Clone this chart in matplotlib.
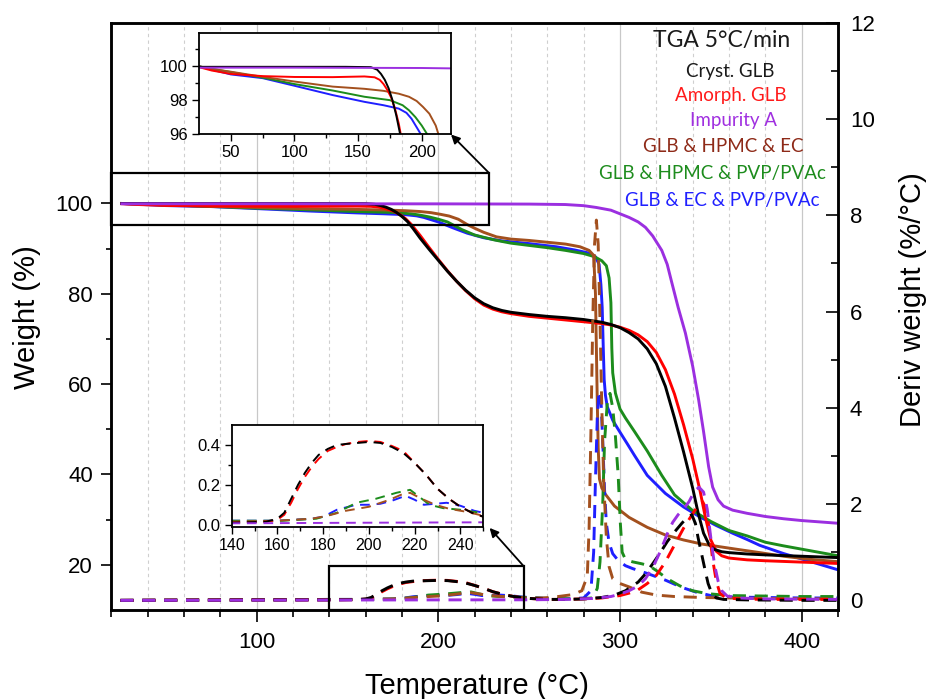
import matplotlib
matplotlib.use('Agg')
import matplotlib.pyplot as plt
from matplotlib.ticker import MultipleLocator, FixedLocator
from matplotlib.patches import Rectangle

plt.rcParams['font.family'] = ['Liberation Sans', 'DejaVu Sans']

# ---- weight curves (%) ----
cryst_wt_T = [25, 60, 100, 140, 160, 165, 168, 171, 174, 177, 180, 183, 186, 190, 195, 200, 205, 210, 215, 220,
              225, 230, 235, 240, 250, 260, 270, 280, 290, 295, 300, 305, 310, 315, 320, 325, 330, 335, 340, 343,
              346, 349, 352, 356, 360, 370, 380, 400, 420]
cryst_wt = [99.97, 99.97, 99.97, 99.97, 99.95, 99.8, 99.55, 99.2, 98.7, 98.0, 97.1, 96.0, 94.5, 92.3, 89.8, 87.4,
            85.0, 82.8, 80.8, 79.1, 77.8, 76.9, 76.3, 75.9, 75.4, 75.0, 74.7, 74.3, 73.7, 73.2, 72.5, 71.4, 70.0,
            67.8, 64.5, 59.5, 52.5, 45.0, 37.0, 31.5, 27.0, 24.5, 23.4, 22.9, 22.7, 22.4, 22.2, 21.9, 21.6]

amorph_wt_T = [25, 35, 50, 75, 100, 130, 155, 163, 167, 170, 173, 176, 179, 182, 185, 190, 195, 200, 205, 210,
               215, 220, 225, 230, 235, 240, 250, 260, 270, 280, 290, 295, 300, 305, 310, 315, 320, 325, 330, 335,
               340, 344, 347, 350, 353, 356, 360, 370, 380, 400, 420]
amorph_wt = [99.95, 99.75, 99.55, 99.42, 99.37, 99.36, 99.4, 99.35, 99.2, 98.95, 98.6, 98.15, 97.5, 96.6, 95.4,
             92.9, 90.2, 87.6, 85.1, 82.8, 80.7, 78.9, 77.5, 76.6, 76.0, 75.6, 75.0, 74.6, 74.2, 73.8, 73.4, 73.1,
             72.6, 71.9, 70.9, 69.4, 67.0, 63.2, 57.8, 51.0, 43.5, 36.5, 30.5, 25.5, 23.0, 22.0, 21.5, 21.1, 20.9,
             20.6, 20.3]

imp_wt_T = [25, 100, 200, 250, 270, 280, 287, 295, 300, 305, 310, 314, 318, 323, 326, 328.5, 332, 336, 340, 343.3,
            346, 348.8, 351, 354, 357, 362, 370, 380, 390, 400, 410, 420]
imp_wt = [99.92, 99.92, 99.9, 99.85, 99.75, 99.5, 99.1, 98.5, 97.7, 96.9, 95.9, 94.7, 92.8, 89.6, 86.5, 82.5, 77.0,
          71.3, 64.0, 56.5, 49.5, 41.7, 37.2, 34.4, 33.0, 32.1, 31.4, 30.7, 30.2, 29.8, 29.5, 29.2]

hpmc_ec_wt_T = [25, 35, 50, 75, 100, 130, 155, 170, 182, 190, 196, 201, 206, 211, 216, 220, 225, 232, 240, 250,
                260, 270, 278, 283, 285.5, 286.5, 287, 287.5, 288, 288.7, 290, 292, 297, 305, 315, 325, 335, 345,
                355, 365, 377, 390, 405, 420]
hpmc_ec_wt = [100.0, 99.85, 99.68, 99.38, 99.1, 98.8, 98.67, 98.55, 98.38, 98.2, 97.95, 97.6, 97.2, 96.5, 95.3,
              94.5, 93.6, 92.6, 92.1, 91.8, 91.4, 91.0, 90.4, 89.6, 88.5, 80.0, 68.0, 56.0, 46.0, 39.0, 37.0, 35.6,
              33.0, 30.5, 28.3, 26.6, 25.5, 24.6, 24.0, 23.4, 22.7, 21.9, 21.2, 20.7]

hpmc_pvp_wt_T = [25, 35, 50, 75, 100, 130, 155, 175, 185, 190, 195, 200, 205, 213, 220, 231, 240, 250, 260, 270,
                 280, 286, 290, 292.5, 294, 295, 295.5, 296, 297.5, 300, 303, 308, 315, 323, 330, 340, 350, 360,
                 370, 380, 390, 405, 420]
hpmc_pvp_wt = [100.0, 99.85, 99.66, 99.33, 98.95, 98.57, 98.2, 98.0, 97.7, 97.4, 97.0, 96.5, 95.9, 94.2, 93.0,
               91.9, 91.2, 90.7, 90.2, 89.6, 88.9, 88.2, 87.3, 86.2, 83.5, 78.0, 68.0, 62.5, 58.0, 54.5, 52.5, 49.5,
               45.2, 39.8, 35.5, 32.0, 29.6, 27.6, 26.4, 25.0, 24.2, 23.1, 22.0]

ec_pvp_wt_T = [25, 35, 50, 75, 100, 130, 155, 170, 182, 188, 192, 196, 200, 208, 216, 225, 235, 250, 265, 275,
               283, 286.5, 288.5, 289.5, 290.2, 290.8, 291.3, 292, 293, 296, 299, 304, 308, 315, 325, 335, 344, 353,
               362, 370, 377, 390, 400, 410, 420]
ec_pvp_wt = [100.0, 99.8, 99.52, 99.3, 98.85, 98.3, 97.9, 97.7, 97.5, 97.25, 96.9, 96.4, 95.9, 94.6, 93.4, 92.4,
             91.7, 91.1, 90.4, 89.7, 89.0, 88.2, 86.5, 82.0, 77.0, 68.0, 61.0, 57.5, 55.0, 52.0, 50.0, 46.8, 44.2,
             39.8, 35.8, 32.8, 30.6, 28.7, 27.0, 25.6, 24.3, 22.5, 21.3, 20.1, 18.9]

# ---- derivative curves (%/°C) ----
cryst_dw_T = [25, 60, 100, 140, 155, 160, 163, 166, 169, 172, 175, 178, 182, 186, 190, 195, 200, 205, 210, 215,
              220, 225, 230, 235, 240, 245, 250, 260, 270, 280, 290, 297, 303, 310, 314, 318, 322, 326, 330, 334,
              337, 339.5, 341.5, 343, 345, 347, 348.5, 350.5, 353, 357, 370, 400, 420]
cryst_dw = [0.0, 0.005, 0.01, 0.01, 0.015, 0.03, 0.06, 0.13, 0.2, 0.26, 0.31, 0.35, 0.38, 0.4, 0.405, 0.41, 0.415,
            0.41, 0.39, 0.36, 0.31, 0.25, 0.18, 0.13, 0.09, 0.06, 0.04, 0.02, 0.02, 0.03, 0.06, 0.11, 0.2, 0.38,
            0.55, 0.76, 0.98, 1.22, 1.42, 1.6, 1.72, 1.78, 1.6, 1.3, 0.95, 0.6, 0.35, 0.15, 0.05, 0.02, 0.01, 0.0,
            0.0]

amorph_dw_T = [25, 60, 100, 140, 155, 160, 163, 166, 169, 172, 175, 178, 182, 186, 190, 195, 200, 205, 210, 215,
               220, 225, 230, 235, 240, 245, 250, 260, 270, 280, 290, 300, 305, 310, 315, 320, 325, 330, 335, 340,
               343, 345.5, 347.5, 349, 351, 353, 355, 358, 365, 380, 420]
amorph_dw = [0.0, 0.005, 0.01, 0.01, 0.015, 0.025, 0.05, 0.11, 0.18, 0.24, 0.29, 0.33, 0.37, 0.39, 0.405, 0.415,
             0.42, 0.415, 0.395, 0.37, 0.31, 0.25, 0.18, 0.13, 0.09, 0.06, 0.04, 0.02, 0.02, 0.03, 0.05, 0.1, 0.15,
             0.22, 0.35, 0.52, 0.8, 1.15, 1.5, 1.8, 1.97, 2.05, 1.9, 1.5, 0.85, 0.4, 0.15, 0.06, 0.03, 0.02, 0.02]

imp_dw_T = [25, 100, 200, 250, 270, 285, 295, 300, 305, 310, 314, 318, 322, 326, 329, 332, 335, 338, 341, 343.5,
            346, 348, 350, 352, 354, 356, 359, 365, 380, 420]
imp_dw = [0.0, 0.005, 0.01, 0.012, 0.02, 0.04, 0.08, 0.13, 0.2, 0.3, 0.45, 0.68, 1.0, 1.38, 1.62, 1.78, 1.9, 2.05,
          2.27, 2.35, 2.25, 1.9, 1.3, 0.75, 0.4, 0.2, 0.09, 0.05, 0.03, 0.02]

hpmc_ec_dw_T = [25, 100, 140, 160, 175, 182, 190, 200, 209, 214, 218, 223, 229, 235, 242, 250, 258, 266, 274, 279,
                282, 283, 284, 285, 286, 287, 288, 289, 290, 291, 292.5, 294, 296, 300, 305, 312, 320, 330, 345,
                360, 380, 420]
hpmc_ec_dw = [0.0, 0.01, 0.015, 0.02, 0.03, 0.045, 0.07, 0.09, 0.125, 0.15, 0.16, 0.13, 0.1, 0.08, 0.066, 0.045,
              0.05, 0.08, 0.12, 0.2, 0.5, 1.5, 3.5, 5.8, 7.4, 7.9, 7.4, 5.8, 4.0, 2.5, 1.3, 0.7, 0.45, 0.35, 0.28,
              0.17, 0.11, 0.08, 0.06, 0.05, 0.04, 0.03]

hpmc_pvp_dw_T = [25, 100, 140, 162, 177, 186, 194.5, 203, 212, 218, 222, 226.5, 232.5, 240, 248.5, 260, 275, 285,
                 287.5, 289, 290.5, 291.5, 293, 294.5, 296, 297.5, 299, 300.2, 301.2, 303, 307, 312, 316, 320, 326,
                 333, 340, 348, 360, 380, 400, 420]
hpmc_pvp_dw = [0.0, 0.01, 0.02, 0.02, 0.03, 0.06, 0.11, 0.13, 0.16, 0.175, 0.14, 0.1, 0.083, 0.075, 0.06, 0.04,
               0.03, 0.05, 0.25, 0.8, 2.0, 3.3, 4.1, 4.3, 4.0, 3.4, 2.6, 1.6, 1.0, 0.85, 0.8, 0.76, 0.72, 0.62,
               0.45, 0.3, 0.2, 0.14, 0.1, 0.09, 0.08, 0.08]

ec_pvp_dw_T = [25, 100, 140, 160, 175, 180, 186, 194.5, 200, 205, 210, 216, 220, 224, 229, 234, 240, 246, 250, 260,
               270, 280, 284, 285.5, 286.5, 287.5, 288.5, 289.5, 290.5, 291.5, 292.5, 294, 296, 299, 303, 307, 315,
               325, 334, 342, 350, 360, 380, 400, 420]
ec_pvp_dw = [0.0, 0.01, 0.02, 0.02, 0.03, 0.04, 0.075, 0.1, 0.1, 0.105, 0.12, 0.145, 0.125, 0.1, 0.105, 0.11,
             0.095, 0.07, 0.06, 0.04, 0.03, 0.05, 0.2, 1.0, 2.5, 3.8, 4.35, 4.2, 3.3, 2.3, 1.6, 1.2, 0.97, 0.83,
             0.72, 0.66, 0.56, 0.42, 0.27, 0.17, 0.1, 0.07, 0.06, 0.05, 0.05]

labels = ['Cryst. GLB', 'Amorph. GLB', 'Impurity A', 'GLB & HPMC & EC',
          'GLB & HPMC & PVP/PVAc', 'GLB & EC & PVP/PVAc']
line_colors = ['#000000', '#ff0000', '#9b2fe0', '#a3501e', '#1c8c1c', '#1f1fff']
text_colors = ['#1a1a1a', '#ff1a1a', '#a030e0', '#8e2a18', '#1d8c1d', '#2020ff']

weights = [(cryst_wt_T, cryst_wt), (amorph_wt_T, amorph_wt), (imp_wt_T, imp_wt),
           (hpmc_ec_wt_T, hpmc_ec_wt), (hpmc_pvp_wt_T, hpmc_pvp_wt), (ec_pvp_wt_T, ec_pvp_wt)]
derivs = [(cryst_dw_T, cryst_dw), (amorph_dw_T, amorph_dw), (imp_dw_T, imp_dw),
          (hpmc_ec_dw_T, hpmc_ec_dw), (hpmc_pvp_dw_T, hpmc_pvp_dw), (ec_pvp_dw_T, ec_pvp_dw)]
draw_order = [5, 4, 3, 1, 0, 2]

W, H = 927, 699


def px_axes(l, r, t, b):
    return [l / W, 1 - b / H, (r - l) / W, (b - t) / H]


fig = plt.figure(figsize=(W / 100, H / 100), dpi=100)

# main axes
ax = fig.add_axes(px_axes(111.3, 838, 22.7, 610))
ax2 = ax.twinx()
for i in draw_order:
    t, w = weights[i]
    ax.plot(t, w, color=line_colors[i], lw=2.1, solid_capstyle='butt')
for i in draw_order:
    t, d = derivs[i]
    ax2.plot(t, d, color=line_colors[i], lw=2.1, dashes=(4.5, 3))

ax.set_xlim(20, 420)
ax.set_ylim(10, 140)
ax2.set_ylim(-0.2, 12)
ax.xaxis.set_major_locator(FixedLocator([100, 200, 300, 400]))
ax.xaxis.set_minor_locator(MultipleLocator(20))
ax.yaxis.set_major_locator(FixedLocator([20, 40, 60, 80, 100]))
ax.yaxis.set_minor_locator(FixedLocator([30, 50, 70, 90]))
ax2.yaxis.set_major_locator(MultipleLocator(2))
ax2.yaxis.set_minor_locator(MultipleLocator(1))

ax.set_axisbelow(True)
ax.xaxis.grid(True, which='major', color='#c8c8c8', lw=0.9)
ax.xaxis.grid(True, which='minor', color='#cfcfcf', lw=0.8, ls=(0, (3, 3)))

for a in (ax, ax2):
    for s in a.spines.values():
        s.set_linewidth(1.8)
ax.tick_params(axis='x', which='major', direction='out', length=8.6, width=1.2, labelsize=16, pad=7, top=False)
ax.tick_params(axis='x', which='minor', direction='out', length=5, width=1.2, top=False)
ax.tick_params(axis='y', which='major', direction='out', length=7.2, width=1.2, labelsize=16, pad=6, right=False)
ax.tick_params(axis='y', which='minor', direction='out', length=3.6, width=1.2, right=False)
ax2.tick_params(axis='y', which='major', direction='in', length=8.6, width=1.2, labelsize=16, pad=8.5)
ax2.tick_params(axis='y', which='minor', direction='in', length=5, width=1.2)

# zoom boxes on main plot
ax.add_patch(Rectangle((20, 95.2), 208, 11.5, fill=False, ec='k', lw=1.6, zorder=6, clip_on=False))
ax2.add_patch(Rectangle((140, -0.2), 107, 0.91, fill=False, ec='k', lw=1.6, zorder=6, clip_on=False))

# inset 1: weight near 100 %
ins1 = fig.add_axes(px_axes(199, 451, 33.3, 134))
for i in draw_order:
    t, w = weights[i]
    ins1.plot(t, w, color=line_colors[i], lw=1.4)
ins1.set_xlim(25, 223)
ins1.set_ylim(96, 101.95)
ins1.xaxis.set_major_locator(FixedLocator([50, 100, 150, 200]))
ins1.xaxis.set_minor_locator(FixedLocator([75, 125, 175]))
ins1.yaxis.set_major_locator(FixedLocator([96, 98, 100]))
ins1.yaxis.set_minor_locator(FixedLocator([97, 99, 101]))

# inset 2: first derivative hump
ins2 = fig.add_axes(px_axes(231.7, 483.3, 425, 526.7))
for i in draw_order:
    t, d = derivs[i]
    ins2.plot(t, d, color=line_colors[i], lw=1.4, dashes=(5, 3.5))
ins2.set_xlim(140, 250)
ins2.set_ylim(-0.01, 0.5)
ins2.xaxis.set_major_locator(MultipleLocator(20))
ins2.xaxis.set_minor_locator(MultipleLocator(10))
ins2.yaxis.set_major_locator(FixedLocator([0.0, 0.2, 0.4]))
ins2.yaxis.set_minor_locator(FixedLocator([0.1, 0.3]))
ins2.set_yticklabels(['0.0', '0.2', '0.4'])

for a in (ins1, ins2):
    for s in a.spines.values():
        s.set_linewidth(1.3)
    a.tick_params(which='major', direction='out', length=5, width=1.0, labelsize=12, pad=3, top=False, right=False)
    a.tick_params(which='minor', direction='out', length=3, width=1.0, top=False, right=False)
ins2.tick_params(axis='x', labelsize=11.5)

# arrows from boxes to insets
arrow = dict(arrowstyle='-|>', color='k', lw=1.3, mutation_scale=13, shrinkA=0, shrinkB=0)
ax2.annotate('', xy=(1.0, -0.005), xycoords=ins1.transAxes,
             xytext=(228, 106.7), textcoords=ax.transData, arrowprops=arrow)
ax2.annotate('', xy=(1.025, -0.012), xycoords=ins2.transAxes,
             xytext=(247, 0.71), textcoords=ax2.transData, arrowprops=arrow)

# axis labels
fig.text(27 / W, 1 - 317 / H, 'Weight (%)', rotation=90, ha='center', va='center', fontsize=21)
fig.text(913 / W, 1 - 300 / H, 'Deriv weight (%/°C)', rotation=90, ha='center', va='center', fontsize=21)
fig.text(477 / W, 1 - 686 / H, 'Temperature (°C)', ha='center', va='center', fontsize=21)

# legend-like text block
fig.text(722 / W, 1 - 40 / H, 'TGA 5°C/min', ha='center', va='center', fontsize=16.5,
         family=['Lato', 'DejaVu Sans'], color='#1a1a1a')
text_x = [730, 731, 733, 723, 712, 722]
text_y = [71.7, 96, 120.7, 146.7, 173.3, 200]
for lab, c, x, y in zip(labels, text_colors, text_x, text_y):
    fig.text(x / W, 1 - y / H, lab, ha='center', va='center', fontsize=13.5,
             family=['Lato', 'DejaVu Sans'], color=c)

fig.savefig('out.png', dpi=100)
